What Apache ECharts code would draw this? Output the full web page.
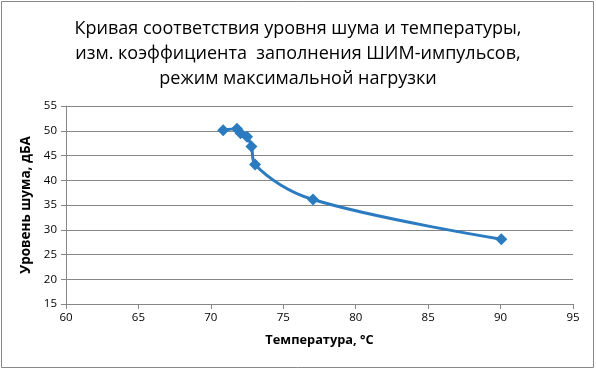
<!DOCTYPE html>
<html><head><meta charset="utf-8">
<script src="https://cdn.jsdelivr.net/npm/echarts@6/dist/echarts.min.js"></script>
<style>html,body{margin:0;padding:0;background:#fff}#c{width:596px;height:370px}</style>
</head><body><div id="c"></div>
<script>
const titleLines = ['Кривая соответствия уровня шума и температуры,', 'изм. коэффициента  заполнения ШИМ-импульсов,', 'режим максимальной нагрузки'];
const xName = 'Температура, °С';
const yName = 'Уровень шума, дБА';
const temperature = [70.85, 71.8, 72.05, 72.5, 72.8, 73.05, 77.05, 90.05];
const noise = [50.1, 50.4, 49.5, 48.8, 46.8, 43.2, 36.1, 28.1];
const xMin = 60, xMax = 95, xStep = 5;
const yMin = 15, yMax = 55, yStep = 5;

const chart = echarts.init(document.getElementById('c'), null, {renderer: 'canvas'});
const font = "'Open Sans', 'Liberation Sans', sans-serif";
chart.setOption({
  animation: false,
  backgroundColor: '#fff',
  graphic: [{type: 'rect', shape: {x: 1.5, y: 1.5, width: 592, height: 366}, style: {fill: 'none', stroke: '#878787', lineWidth: 1}}],
  title: {
    text: titleLines.join('\n'), left: 'center', top: 11,
    textStyle: {fontFamily: font, fontSize: 18, fontWeight: 'normal', color: '#000', lineHeight: 25}
  },
  grid: {left: 66, right: 23, top: 106, bottom: 66},
  xAxis: {
    type: 'value', min: xMin, max: xMax, interval: xStep,
    name: xName, nameLocation: 'middle', nameGap: 30,
    nameTextStyle: {fontFamily: font, fontSize: 12.8, fontWeight: 'bold', color: '#000'},
    axisLine: {show: true, lineStyle: {color: '#868686', width: 1}},
    axisTick: {show: true, length: 5, lineStyle: {color: '#868686'}},
    axisLabel: {fontFamily: font, fontSize: 11.5, color: '#000', margin: 8},
    splitLine: {show: false}
  },
  yAxis: {
    type: 'value', min: yMin, max: yMax, interval: yStep,
    name: yName, nameLocation: 'middle', nameGap: 33, nameRotate: 90,
    nameTextStyle: {fontFamily: font, fontSize: 13.5, fontWeight: 'bold', color: '#000'},
    axisLine: {show: true, lineStyle: {color: '#868686', width: 1}},
    axisTick: {show: true, length: 5, lineStyle: {color: '#868686'}},
    axisLabel: {fontFamily: font, fontSize: 11.5, color: '#000', margin: 9},
    splitLine: {show: true, lineStyle: {color: '#868686', width: 1}}
  },
  series: [{
    type: 'line',
    data: temperature.map((t, i) => [t, noise[i]]),
    smooth: 0.35,
    symbol: 'diamond', symbolSize: 12,
    lineStyle: {color: '#2b7bc0', width: 3},
    itemStyle: {color: '#2b7bc0'}
  }]
});
</script></body></html>
